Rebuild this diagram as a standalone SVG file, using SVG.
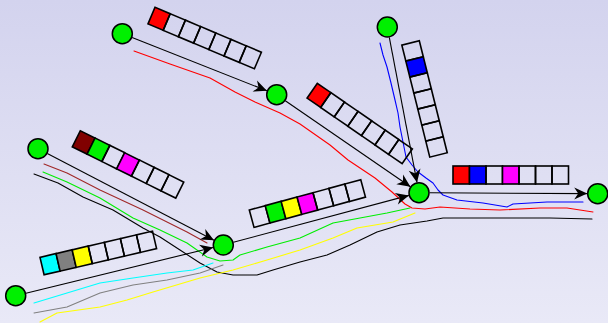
<svg xmlns="http://www.w3.org/2000/svg" width="608" height="323" viewBox="0 0 608 323">
  <defs>
    <linearGradient id="bg" x1="0" y1="0" x2="0" y2="1">
      <stop offset="0" stop-color="#d3d3ee"/>
      <stop offset="1" stop-color="#e9e9f7"/>
    </linearGradient>
    <marker id="arrow" markerUnits="userSpaceOnUse" markerWidth="16" markerHeight="14" viewBox="-14 -7 16 14" refX="0" refY="0" orient="auto">
      <path d="M0,0 L-13,-6 L-9,0 L-13,6 Z" fill="#000"/>
    </marker>
    <!-- one empty buffer cell -->
    <rect id="cell" width="16.5" height="18"/>
  </defs>
  <style>
    .node { fill: #00f000; stroke: #000; stroke-width: 1.5; }
    .edge { stroke: #000; stroke-width: 1.1; fill: none; marker-end: url(#arrow); }
    .trace { fill: none; stroke-width: 1.1; stroke-linejoin: round; stroke-linecap: round; }
    .queue rect, .queue use { stroke: #000; stroke-width: 1.6; fill: none; }
  </style>

  <rect width="608" height="323" fill="url(#bg)"/>

  <!-- packet traces -->
  <g id="traces">
    <path class="trace" stroke="#ff0000" d="M134,51 L170,64 L210,78 L235,92 L255,102 L280,113 L300,124 L330,145 L348,160 L375,178 L392,192 L405,204 L412,208 L425,209 L440,207 L470,209 L500,210 L540,208 L567,208 L593,212"/>
    <path class="trace" stroke="#0000ff" d="M380,43 L383,55 L387,67 L391,83 L395,100 L398,113 L400,127 L403,142 L406,157 L412,165 L418,172 L426,178 L433,183 L438,190 L443,195 L457,200 L483,203 L507,207 L513,204 L530,203 L547,202 L583,202"/>
    <path class="trace" stroke="#000000" d="M34,174 L58,183 L83,197 L113,210 L143,228 L160,237 L180,250 L200,263 L217,272 L233,275 L257,275 L273,270 L300,262 L327,255 L350,245 L377,232 L400,225 L427,221 L443,218 L500,218 L550,218 L592,219"/>
    <path class="trace" stroke="#a02828" d="M44,164 L67,173 L100,190 L143,210 L167,222 L187,232 L207,243"/>
    <path class="trace" stroke="#00ee00" d="M43,172 L67,182 L100,198 L133,218 L160,230 L187,243 L207,257 L220,261 L233,260 L240,255 L267,247 L300,238 L333,223 L360,218 L387,213 L410,208"/>
    <path class="trace" stroke="#ffff00" d="M40,322 L57,313 L100,307 L127,300 L153,292 L200,278 L233,270 L267,260 L300,250 L333,238 L357,228 L393,222 L415,213"/>
    <path class="trace" stroke="#00ffff" d="M34,303 L67,293 L100,283 L133,278 L167,273 L193,270 L213,263"/>
    <path class="trace" stroke="#808080" d="M34,313 L67,307 L100,293 L133,285 L167,280 L200,273 L223,265"/>
  </g>

  <!-- links between nodes -->
  <g id="edges">
    <line class="edge" x1="132.1" y1="37.6" x2="266.9" y2="90.8"/>
    <line class="edge" x1="47.3" y1="153.5" x2="214" y2="240.2"/>
    <line class="edge" x1="25.9" y1="293.2" x2="213.1" y2="247.5"/>
    <line class="edge" x1="285.3" y1="100.7" x2="410.4" y2="186.7"/>
    <line class="edge" x1="389.3" y1="37.3" x2="417" y2="182.4"/>
    <line class="edge" x1="233.4" y1="242.3" x2="408.9" y2="195.4"/>
    <line class="edge" x1="429.5" y1="192.8" x2="587.2" y2="193.6"/>
  </g>

  <!-- link buffers -->
  <g id="queue-a-b" class="queue" transform="translate(155,7.3) rotate(22.9)">
    <rect x="0" width="16.5" height="18" style="fill:#ff0000"/>
    <use href="#cell" x="16.5"/><use href="#cell" x="33"/><use href="#cell" x="49.5"/>
    <use href="#cell" x="66"/><use href="#cell" x="82.5"/><use href="#cell" x="99"/>
  </g>
  <g id="queue-b-g" class="queue" transform="translate(317.3,83.3) rotate(34.6)">
    <rect x="0" width="16.5" height="18" style="fill:#ff0000"/>
    <use href="#cell" x="16.5"/><use href="#cell" x="33"/><use href="#cell" x="49.5"/>
    <use href="#cell" x="66"/><use href="#cell" x="82.5"/><use href="#cell" x="99"/>
  </g>
  <g id="queue-f-g" class="queue" transform="translate(419.3,40.7) rotate(76)">
    <use href="#cell" x="0"/>
    <rect x="16.5" width="16.5" height="18" style="fill:#0000ff"/>
    <use href="#cell" x="33"/><use href="#cell" x="49.5"/>
    <use href="#cell" x="66"/><use href="#cell" x="82.5"/><use href="#cell" x="99"/>
  </g>
  <g id="queue-c-d" class="queue" transform="translate(80.3,130.7) rotate(26.4)">
    <rect x="0" width="16.5" height="18" style="fill:#800000"/>
    <rect x="16.5" width="16.5" height="18" style="fill:#00f000"/>
    <use href="#cell" x="33"/>
    <rect x="49.5" width="16.5" height="18" style="fill:#ff00ff"/>
    <use href="#cell" x="66"/><use href="#cell" x="82.5"/><use href="#cell" x="99"/>
  </g>
  <g id="queue-e-d" class="queue" transform="translate(40,257.3) rotate(-13.1)">
    <rect x="0" width="16.5" height="18" style="fill:#00ffff"/>
    <rect x="16.5" width="16.5" height="18" style="fill:#808080"/>
    <rect x="33" width="16.5" height="18" style="fill:#ffff00"/>
    <use href="#cell" x="49.5"/>
    <use href="#cell" x="66"/><use href="#cell" x="82.5"/><use href="#cell" x="99"/>
  </g>
  <g id="queue-d-g" class="queue" transform="translate(249.3,210) rotate(-15.2)">
    <use href="#cell" x="0"/>
    <rect x="16.5" width="16.5" height="18" style="fill:#00f000"/>
    <rect x="33" width="16.5" height="18" style="fill:#ffff00"/>
    <rect x="49.5" width="16.5" height="18" style="fill:#ff00ff"/>
    <use href="#cell" x="66"/><use href="#cell" x="82.5"/><use href="#cell" x="99"/>
  </g>
  <g id="queue-g-h" class="queue" transform="translate(453,166)">
    <rect x="0" width="16.5" height="18" style="fill:#ff0000"/>
    <rect x="16.5" width="16.5" height="18" style="fill:#0000ff"/>
    <use href="#cell" x="33"/>
    <rect x="49.5" width="16.5" height="18" style="fill:#ff00ff"/>
    <use href="#cell" x="66"/><use href="#cell" x="82.5"/><use href="#cell" x="99"/>
  </g>

  <!-- nodes -->
  <g id="node-a"><circle class="node" cx="122.3" cy="33.7" r="10"/></g>
  <g id="node-b"><circle class="node" cx="276.7" cy="94.7" r="10"/></g>
  <g id="node-c"><circle class="node" cx="38" cy="148.7" r="10"/></g>
  <g id="node-d"><circle class="node" cx="223.3" cy="245" r="10"/></g>
  <g id="node-e"><circle class="node" cx="15.7" cy="295.7" r="10"/></g>
  <g id="node-f"><circle class="node" cx="387.3" cy="27" r="10"/></g>
  <g id="node-g"><circle class="node" cx="419" cy="192.7" r="10"/></g>
  <g id="node-h"><circle class="node" cx="597.7" cy="193.7" r="10"/></g>
</svg>
